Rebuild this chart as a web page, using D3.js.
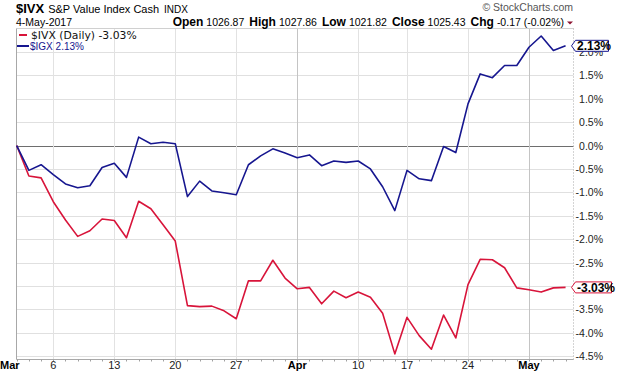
<!DOCTYPE html>
<html>
    <head>
        <meta charset="utf-8">
        <title>$IVX vs $IGX</title>
        <script type="text/javascript" src="https://d3js.org/d3.v7.min.js"></script>
        <style>
            body { margin: 0; background: #fff; }
            svg { display: block; font-family: "Liberation Sans", Arial, sans-serif; }
        </style>
    </head>
    <body>
        <script>
            // Trading days (Mar 1 - May 4 2017)
            var dates = [
                "2017-03-01", "2017-03-02", "2017-03-03",
                "2017-03-06", "2017-03-07", "2017-03-08", "2017-03-09", "2017-03-10",
                "2017-03-13", "2017-03-14", "2017-03-15", "2017-03-16", "2017-03-17",
                "2017-03-20", "2017-03-21", "2017-03-22", "2017-03-23", "2017-03-24",
                "2017-03-27", "2017-03-28", "2017-03-29", "2017-03-30", "2017-03-31",
                "2017-04-03", "2017-04-04", "2017-04-05", "2017-04-06", "2017-04-07",
                "2017-04-10", "2017-04-11", "2017-04-12", "2017-04-13",
                "2017-04-17", "2017-04-18", "2017-04-19", "2017-04-20", "2017-04-21",
                "2017-04-24", "2017-04-25", "2017-04-26", "2017-04-27", "2017-04-28",
                "2017-05-01", "2017-05-02", "2017-05-03", "2017-05-04"
            ];

            // % change since Mar 1
            var ivx = [0, -0.65, -0.69, -1.2, -1.59, -1.94, -1.82, -1.57, -1.60, -1.97,
                -1.19, -1.35, -1.69, -2.04, -3.42, -3.44, -3.43, -3.53, -3.70, -2.89,
                -2.89, -2.45, -2.83, -3.06, -3.03, -3.38, -3.11, -3.25, -3.13, -3.24,
                -3.58, -4.45, -3.67, -4.06, -4.35, -3.62, -4.11, -2.97, -2.43, -2.44,
                -2.61, -3.04, -3.08, -3.13, -3.04, -3.03];
            var igx = [0, -0.53, -0.41, -0.62, -0.82, -0.90, -0.86, -0.47, -0.38, -0.68,
                0.18, 0.04, 0.07, 0.04, -1.09, -0.76, -0.97, -1.01, -1.05, -0.41,
                -0.22, -0.07, -0.16, -0.26, -0.20, -0.43, -0.33, -0.36, -0.33, -0.50,
                -0.88, -1.39, -0.53, -0.71, -0.75, -0.02, -0.15, 0.89, 1.53, 1.45,
                1.71, 1.71, 2.10, 2.34, 2.03, 2.13];

            var tickDates = ["2017-03-01", "2017-03-06", "2017-03-13", "2017-03-20", "2017-03-27",
                "2017-04-03", "2017-04-10", "2017-04-17", "2017-04-24", "2017-05-01"];
            var tickLabels = ["Mar", "6", "13", "20", "27", "Apr", "10", "17", "24", "May"];
            var yTicks = [2.0, 1.5, 1.0, 0.5, 0.0, -0.5, -1.0, -1.5, -2.0, -2.5, -3.0, -3.5, -4.0, -4.5];

            var quote = [["Open", "1026.87"], ["High", "1027.86"], ["Low", "1021.82"],
                ["Close", "1025.43"], ["Chg", "-0.17 (-0.02%)"]];

            var redColor = "#d8143a", blueColor = "#16168f";

            var W = 620, H = 376;
            var pLeft = 16.5, pRight = 573.5, pTop = 28.5, pBottom = 359.5;

            var svg = d3.select("body").append("svg")
                .attr("width", W)
                .attr("height", H);

            var x = d3.scaleLinear().domain([0, dates.length - 1 + 0.65]).range([pLeft + 0.2, pRight]);
            var y = d3.scaleLinear().domain([-4.57, 2.5]).range([pBottom, pTop]);

            var pct1 = function(v) { return v.toFixed(1) + "%"; };
            var pct2 = function(v) { return v.toFixed(2) + "%"; };

            // horizontal grid
            svg.selectAll(".hgrid")
                .data(yTicks)
                .enter()
                .append("line")
                .attr("x1", pLeft).attr("x2", pRight)
                .attr("y1", function(d) { return Math.round(y(d)) + 0.5; })
                .attr("y2", function(d) { return Math.round(y(d)) + 0.5; })
                .attr("stroke", function(d) { return d === 0 ? "#6e6e6e" : "#e0e0e0"; })
                .attr("stroke-width", 1);

            // vertical grid (weeks, months darker)
            var isMonth = function(s) { return isNaN(+s); };
            var ticks = tickDates.map(function(d, i) {
                return { i: dates.indexOf(d), label: tickLabels[i], month: isMonth(tickLabels[i]) };
            });
            svg.selectAll(".vgrid")
                .data(ticks.slice(1))
                .enter()
                .append("line")
                .attr("x1", function(d) { return Math.round(x(d.i)) + 0.5; })
                .attr("x2", function(d) { return Math.round(x(d.i)) + 0.5; })
                .attr("y1", pTop).attr("y2", pBottom)
                .attr("stroke", function(d) { return d.month ? "#c4c4c4" : "#e2e2e2"; });

            // frame
            svg.append("line").attr("x1", pLeft).attr("x2", pRight).attr("y1", pTop).attr("y2", pTop).attr("stroke", "#d0d0d0");
            svg.append("line").attr("x1", pLeft).attr("x2", pLeft).attr("y1", pTop).attr("y2", pBottom).attr("stroke", "#a8a8a8");
            svg.append("line").attr("x1", pLeft).attr("x2", pRight).attr("y1", pBottom).attr("y2", pBottom).attr("stroke", "#a8a8a8");
            svg.append("line").attr("x1", pRight).attr("x2", pRight).attr("y1", pTop).attr("y2", pBottom + 2)
                .attr("stroke", "#a8a8a8").attr("stroke-dasharray", "1,2");

            // minor day ticks on bottom axis
            svg.selectAll(".dtick")
                .data(dates)
                .enter()
                .append("line")
                .attr("x1", function(d, i) { return Math.round(x(i)) + 0.5; })
                .attr("x2", function(d, i) { return Math.round(x(i)) + 0.5; })
                .attr("y1", pBottom).attr("y2", pBottom + 2)
                .attr("stroke", "#a0a0a0");

            // x labels
            svg.selectAll(".xlab")
                .data(ticks)
                .enter()
                .append("text")
                .attr("x", function(d, i) { return i === 0 ? 0 : x(d.i); })
                .attr("y", 369)
                .attr("text-anchor", function(d, i) { return i === 0 ? "start" : "middle"; })
                .attr("font-size", 11)
                .attr("font-weight", function(d) { return d.month ? "bold" : "normal"; })
                .attr("fill", function(d) { return d.month ? "#000" : "#222"; })
                .text(function(d) { return d.label; });

            // y labels on the right
            svg.selectAll(".ylab")
                .data(yTicks)
                .enter()
                .append("text")
                .attr("x", 603)
                .attr("y", function(d) { return y(d) + 4; })
                .attr("text-anchor", "end")
                .attr("font-size", 10.5)
                .attr("fill", "#222")
                .text(function(d) { return pct1(d); });

            // lines
            var line = d3.line()
                .x(function(d, i) { return x(i); })
                .y(function(d) { return y(d); });

            svg.append("path").datum(ivx)
                .attr("d", line)
                .attr("fill", "none")
                .attr("stroke", redColor)
                .attr("stroke-width", 1.6)
                .attr("stroke-linejoin", "round");

            svg.append("path").datum(igx)
                .attr("d", line)
                .attr("fill", "none")
                .attr("stroke", blueColor)
                .attr("stroke-width", 1.6)
                .attr("stroke-linejoin", "round");

            // value badges
            var badges = [
                { v: igx[igx.length - 1], color: blueColor, w: 33 },
                { v: ivx[ivx.length - 1], color: redColor, w: 36 }
            ];
            var badge = svg.selectAll(".badge")
                .data(badges)
                .enter()
                .append("g");
            badge.append("path")
                .attr("d", function(d) {
                    var cy = y(d.v), tx = 571.5, bx = 575.5, h = 5.5;
                    return "M" + tx + "," + cy + "L" + bx + "," + (cy - h) + "H" + (bx + d.w) +
                        "V" + (cy + h) + "H" + bx + "Z";
                })
                .attr("fill", "#fff")
                .attr("stroke", function(d) { return d.color; })
                .attr("stroke-width", 1);
            badge.append("text")
                .attr("x", 577)
                .attr("y", function(d) { return y(d.v) + 4.5; })
                .attr("font-size", 12)
                .attr("font-weight", "bold")
                .attr("fill", "#000")
                .text(function(d) { return pct2(d.v); });

            // legend
            svg.append("line").attr("x1", 19).attr("x2", 27).attr("y1", 35).attr("y2", 35)
                .attr("stroke", redColor).attr("stroke-width", 2);
            svg.append("text").attr("x", 31).attr("y", 38.5)
                .attr("font-family", "DejaVu Sans").attr("font-size", 10.8).attr("fill", "#111")
                .text("$IVX (Daily) " + pct2(ivx[ivx.length - 1]));
            svg.append("line").attr("x1", 17).attr("x2", 29).attr("y1", 46).attr("y2", 46)
                .attr("stroke", blueColor).attr("stroke-width", 2);
            svg.append("text").attr("x", 30).attr("y", 49.5)
                .attr("font-size", 10).attr("fill", blueColor)
                .text("$IGX " + pct2(igx[igx.length - 1]));

            // title
            var title = svg.append("text").attr("x", 16).attr("y", 13).attr("fill", "#000");
            title.append("tspan").attr("font-size", 13).attr("font-weight", "bold").text("$IVX");
            title.append("tspan").attr("font-size", 11).attr("dx", 4).text("S&P Value Index Cash");
            title.append("tspan").attr("font-size", 10).attr("dx", 5).text("INDX");

            svg.append("text").attr("x", 16).attr("y", 26)
                .attr("font-size", 10.5).attr("fill", "#000")
                .text("4-May-2017");

            // quote line
            var q = svg.append("text").attr("x", 564).attr("y", 25.5)
                .attr("text-anchor", "end").attr("fill", "#000");
            quote.forEach(function(p, i) {
                q.append("tspan").attr("dx", i === 0 ? 0 : 5).attr("font-size", 12)
                    .attr("font-weight", "bold").text(p[0]);
                q.append("tspan").attr("dx", 3).attr("font-size", 10.5).text(p[1]);
            });
            svg.append("path").attr("d", "M567,21.5H573L570,24.5Z").attr("fill", "#8c1230");

            // watermark
            svg.append("text").attr("x", 573).attr("y", 11)
                .attr("text-anchor", "end").attr("font-size", 10.5).attr("fill", "#555")
                .text("\u00a9 StockCharts.com");
        </script>
    </body>
</html>
